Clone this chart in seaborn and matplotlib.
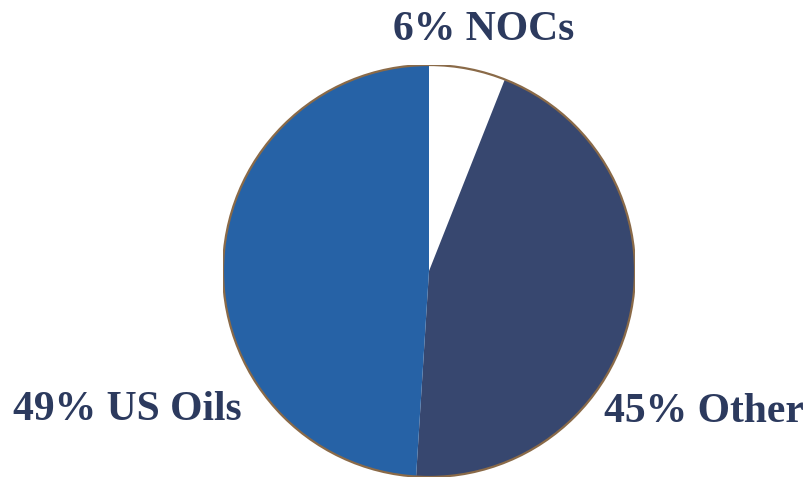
import matplotlib
matplotlib.use("Agg")
import matplotlib.pyplot as plt
import seaborn as sns

# datos del grafico
categorias = ['NOCs', 'Other', 'US Oils']
porcentajes = [6, 45, 49]
colores = ['#ffffff', '#37476f', '#2662a6']

sns.set_theme(style="white")
plt.rcParams['font.family'] = ['Liberation Serif', 'DejaVu Serif']

fig = plt.figure(figsize=(8.11, 4.79), dpi=100)
# ejes con el pie de radio 1 centrado en (429, 271) px, radio 206 px
cx, cy, r = 429, 479 - 271, 206
ax = fig.add_axes([(cx - r) / 811, (cy - r) / 479, 2 * r / 811, 2 * r / 479])

wedges, _ = ax.pie(
    porcentajes,
    colors=colores,
    startangle=90,
    counterclock=False,
    radius=1,
    wedgeprops=dict(linewidth=0),
)
# borde exterior marron
borde = plt.Circle((0, 0), 1, fill=False, edgecolor='#8a6a48', linewidth=1.6)
ax.add_patch(borde)

ax.set_xlim(-1, 1)
ax.set_ylim(-1, 1)
ax.set_aspect('equal')
ax.axis('off')

color_texto = '#2c3a5e'
estilo = dict(fontsize=30, fontweight='bold', color=color_texto,
              ha='center', va='center', clip_on=False)
posiciones = {'NOCs': (0.265, 1.17), 'Other': (1.335, -0.685), 'US Oils': (-1.465, -0.675)}
for cat, pct in zip(categorias, porcentajes):
    x, y = posiciones[cat]
    ax.text(x, y, f'{pct}% {cat}', **estilo)

plt.savefig('out.png', dpi=100)
